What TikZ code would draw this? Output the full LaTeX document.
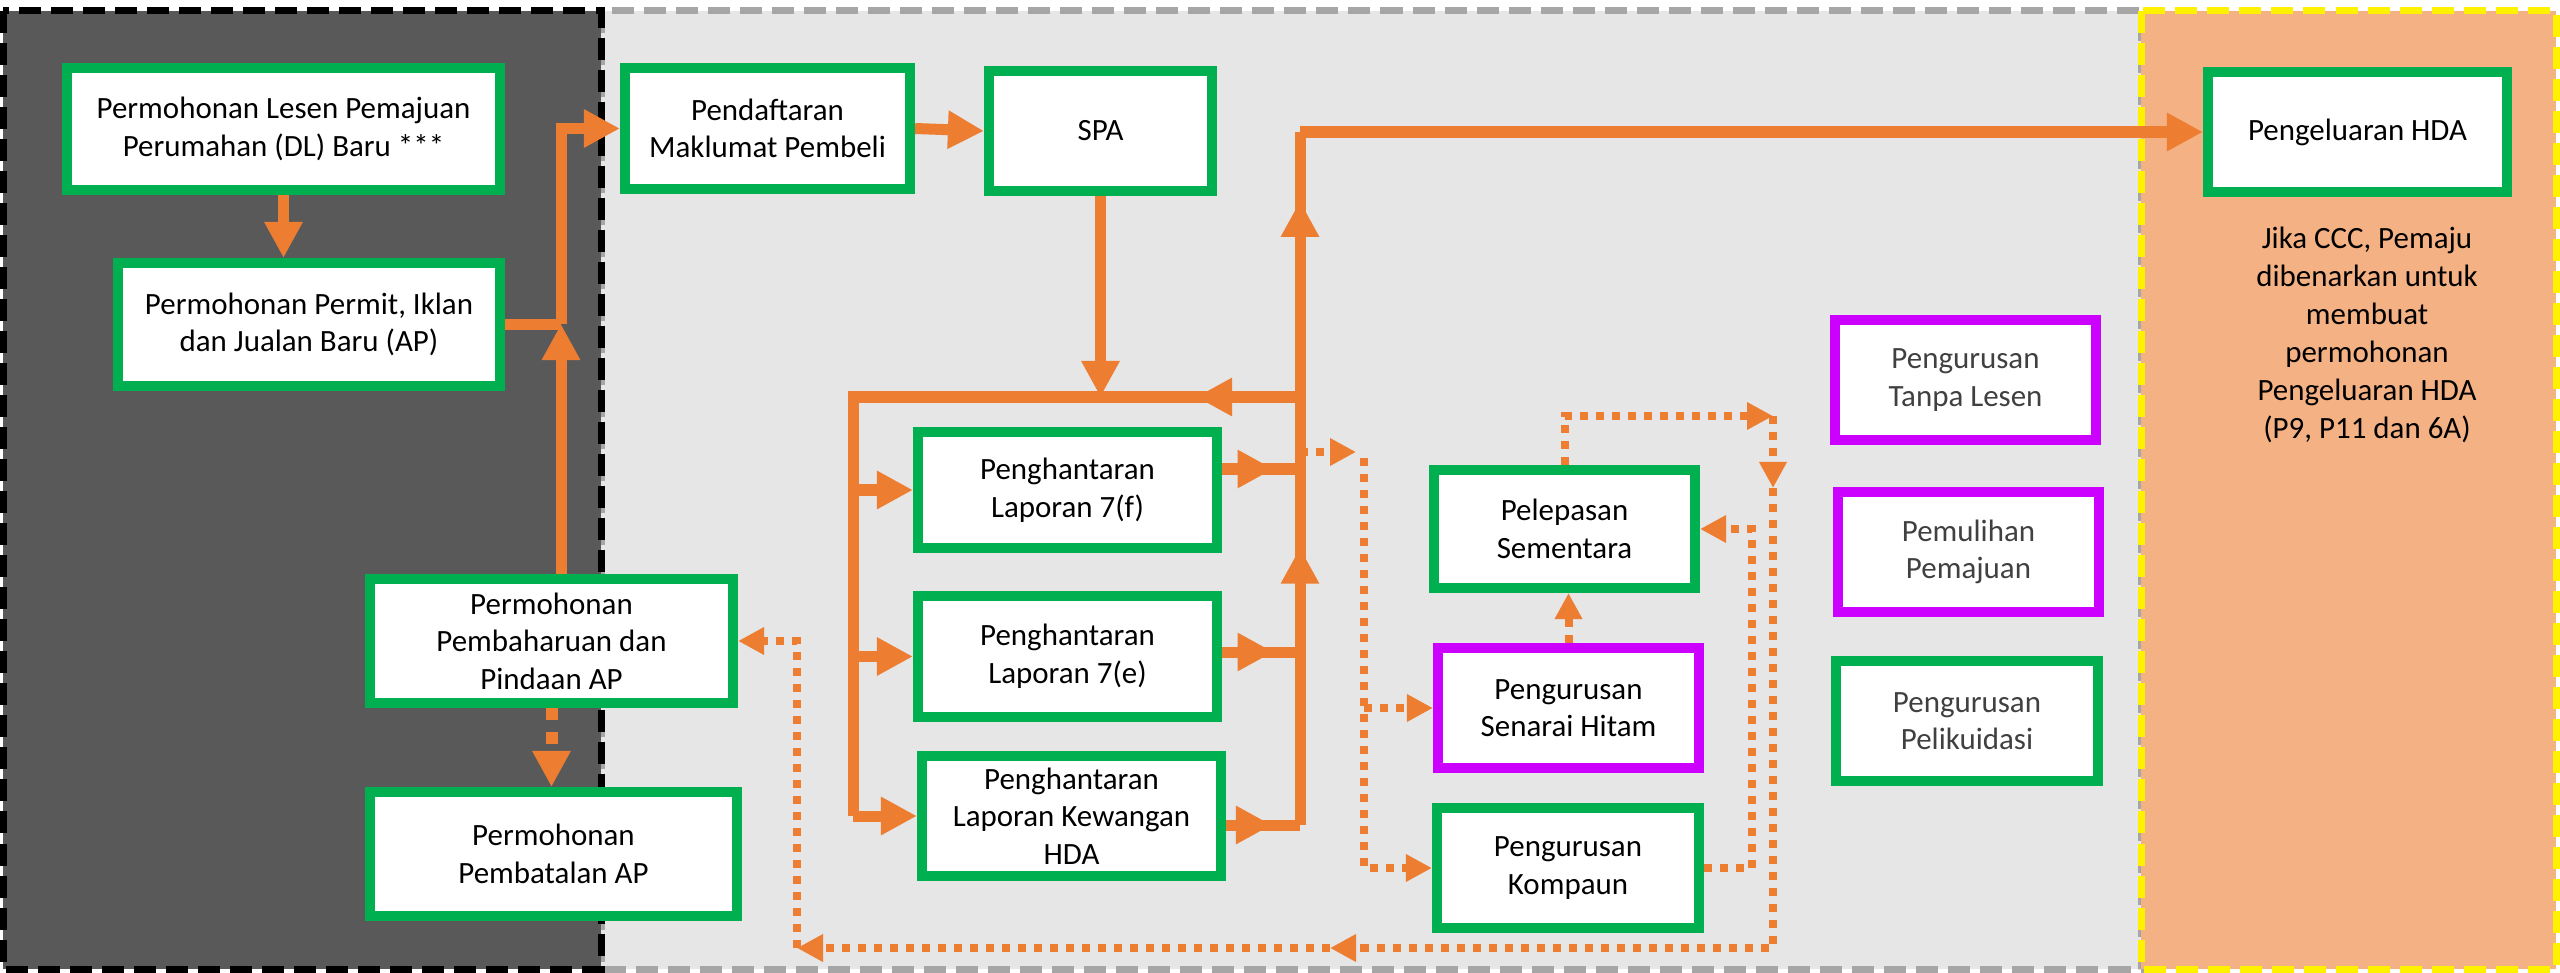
\documentclass[tikz,border=0pt]{standalone}
\usepackage{fontspec}
\setmainfont{Carlito}
\usetikzlibrary{arrows.meta,decorations.markings}

\definecolor{flowOrange}{HTML}{ED7D31}
\definecolor{boxGreen}{HTML}{00B050}
\definecolor{boxPurple}{HTML}{CC00FF}
\definecolor{panelDark}{HTML}{595959}
\definecolor{panelGray}{HTML}{E6E6E6}
\definecolor{panelPeach}{HTML}{F4B183}
\definecolor{dashGray}{HTML}{A6A6A6}
\definecolor{textGray}{HTML}{404040}

\tikzset{
    box/.style={shape=rectangle, fill=white, line width=0.1cm, align=center, inner sep=0pt,
        font=\fontsize{8.8}{10.7}\selectfont},
    greenbox/.style={box, draw=boxGreen},
    purplebox/.style={box, draw=boxPurple},
    boxsize/.style 2 args={minimum width=#1cm, minimum height=#2cm},
    panel/.style={line width=0.07cm, dash pattern=on 0.22cm off 0.1cm},
    flowline/.style={draw=flowOrange, line width=0.11cm},
    flow/.style={flowline, -{Triangle[length=0.36cm,width=0.36cm]}},
    midarrow/.style={postaction={decorate}, decoration={markings,
        mark=at position #1 with {\arrow{Triangle[length=0.36cm,width=0.36cm]}}}},
    dotline/.style={draw=flowOrange, line width=0.08cm, dash pattern=on 0.08cm off 0.08cm},
    dotflow/.style={dotline, -{Triangle[length=0.26cm,width=0.26cm]}},
    bigdotflow/.style={draw=flowOrange, line width=0.12cm, dash pattern=on 0.12cm off 0.12cm,
        -{Triangle[length=0.36cm,width=0.36cm]}}
}

\begin{document}
\begin{tikzpicture}[x=0.01cm, y=-0.01cm]

    \useasboundingbox (0,0) rectangle (2560,973);
    \fill[white] (0,0) rectangle (2560,973);

    \draw[panel, draw=dashGray, fill=panelGray] (601,11) rectangle (2141,969);
    \draw[panel, draw=black, fill=panelDark] (3,11) rectangle (601,969);
    \draw[panel, draw=yellow, fill=panelPeach] (2141,11) rectangle (2556,969);

    \node[greenbox, boxsize={4.33}{1.22}] (DLBaru) at (283.5,129) {Permohonan Lesen Pemajuan\\Perumahan (DL) Baru ***};

    \node[greenbox, boxsize={3.82}{1.23}] (APBaru) at (309,324.5) {Permohonan Permit, Iklan\\dan Jualan Baru (AP)};

    \node[greenbox, boxsize={3.63}{1.24}] (APPinda) at (551.5,641) {Permohonan\\Pembaharuan dan\\Pindaan AP};

    \node[greenbox, boxsize={3.67}{1.24}] (APBatal) at (553.5,854) {Permohonan\\Pembatalan AP};

    \node[greenbox, boxsize={2.85}{1.21}] (Pendaftaran) at (767.5,128.5) {Pendaftaran\\Maklumat Pembeli};

    \node[greenbox, boxsize={2.23}{1.20}] (SPA) at (1100.5,131) {SPA};

    \node[greenbox, boxsize={2.99}{1.16}] (Lap7f) at (1067.5,490) {Penghantaran\\Laporan 7(f)};

    \node[greenbox, boxsize={2.99}{1.21}] (Lap7e) at (1067.5,656.5) {Penghantaran\\Laporan 7(e)};

    \node[greenbox, boxsize={2.99}{1.20}] (LapKew) at (1071.5,816) {Penghantaran\\Laporan Kewangan\\HDA};

    \node[greenbox, boxsize={2.61}{1.18}] (Pelepasan) at (1564.5,529) {Pelepasan\\Sementara};

    \node[purplebox, boxsize={2.61}{1.20}] (Senarai) at (1568.5,708) {Pengurusan\\Senarai Hitam};

    \node[greenbox, boxsize={2.62}{1.20}] (Kompaun) at (1568,868) {Pengurusan\\Kompaun};

    \node[purplebox, boxsize={2.61}{1.20}, text=textGray] (TanpaLesen) at (1965.5,380) {Pengurusan\\Tanpa Lesen};

    \node[purplebox, boxsize={2.61}{1.20}, text=textGray] (Pemulihan) at (1968.5,552) {Pemulihan\\Pemajuan};

    \node[greenbox, boxsize={2.62}{1.20}, text=textGray] (Pelikuidasi) at (1967,721) {Pengurusan\\Pelikuidasi};

    \node[greenbox, boxsize={2.99}{1.20}] (HDA) at (2357.5,132) {Pengeluaran HDA};

    \node[align=center, inner sep=0pt, font=\fontsize{8.8}{10.8}\selectfont] (CCC) at (2367,335) {
        Jika CCC, Pemaju\\
        dibenarkan untuk\\
        membuat\\
        permohonan\\
        Pengeluaran HDA\\
        (P9, P11 dan 6A)
    };

    \coordinate (jA) at (561,324);
    \coordinate (jTop) at (1300,132);
    \coordinate (jHub) at (1300,397);
    \coordinate (j7f) at (1300,469);
    \coordinate (j7e) at (1300,652);
    \coordinate (jKew) at (1300,825);
    \coordinate (jLeft) at (853,397);

    \draw[flow] (DLBaru.south) -- (DLBaru.south |- APBaru.north);
    \draw[flowline] (APBaru.east) -- (APBaru.east -| jA);
    \draw[flow] (APPinda.north -| jA) -- (jA);
    \draw[flow] (jA) |- (Pendaftaran.west);
    \draw[flow] (Pendaftaran.east) -- (SPA.west);
    \draw[flow] (SPA.south) -- (SPA.south |- jHub);

    \draw[flowline, midarrow=0.12] (jHub) -- (jLeft) -- (LapKew.west -| jLeft);
    \draw[flow] (Lap7f.west -| jLeft) -- (Lap7f.west);
    \draw[flow] (Lap7e.west -| jLeft) -- (Lap7e.west);
    \draw[flow] (LapKew.west -| jLeft) -- (LapKew.west);

    \draw[flowline, midarrow=0.66] (Lap7f.east |- j7f) -- (j7f);
    \draw[flowline, midarrow=0.66] (Lap7e.east |- j7e) -- (j7e);
    \draw[flowline, midarrow=0.62] (LapKew.east |- jKew) -- (jKew);

    \draw[flowline] (jKew) -- (j7e);
    \draw[flowline, midarrow=0.57] (j7e) -- (j7f);
    \draw[flowline] (j7f) -- (jHub);
    \draw[flowline, midarrow=0.74] (jHub) -- (jTop);
    \draw[flow] (jTop) -- (HDA.west);

    \coordinate (dA) at (1300,452);
    \coordinate (dB) at (1356,452);
    \coordinate (dC) at (1364,458);
    \coordinate (dE) at (1773,416);
    \coordinate (dF) at (1773,488);
    \coordinate (dG) at (1773,948);
    \coordinate (dH) at (1330,948);
    \coordinate (dI) at (797,948);
    \coordinate (dK) at (1752,700);

    \draw[dotflow] (dA) -- (dB);
    \draw[dotflow] (dC) |- (Kompaun.west);
    \draw[dotflow] (dC |- Senarai.west) -- (Senarai.west);
    \draw[dotflow] (Senarai.north) -- (Senarai.north |- Pelepasan.south);
    \draw[dotflow] (Pelepasan.north) |- (dE);
    \draw[dotflow] (dE) -- (dF);
    \draw[dotflow] (dF) -- (dG) -- (dH);
    \draw[dotflow] (dH) -- (dI);
    \draw[dotflow] (dI) |- (APPinda.east);
    \draw[dotflow] (Kompaun.east) -| (dK) |- (Pelepasan.east);
    \draw[bigdotflow] (APPinda.south) -- (APPinda.south |- APBatal.north);

\end{tikzpicture}
\end{document}
